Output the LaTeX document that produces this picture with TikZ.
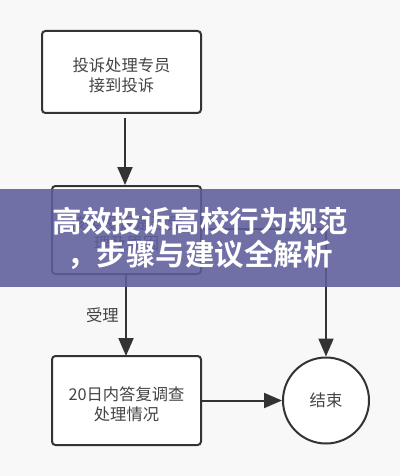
\documentclass[tikz,border=0pt]{standalone}
\usepackage{fontspec}
\setmainfont{Noto Sans CJK SC}
\newfontfamily\cjkbold[BoldFont={Noto Sans CJK SC Bold}]{Noto Sans CJK SC}
\usetikzlibrary{arrows.meta}
\definecolor{bgc}{HTML}{F8F8F8}
\definecolor{ink}{HTML}{333333}
\definecolor{txt}{HTML}{444444}
\definecolor{band}{HTML}{5E5E9C}
\begin{document}
\begin{tikzpicture}[x=1pt,y=-1pt,
  box/.style={draw=ink,line width=2pt,rounded corners=3.5pt,fill=white},
  lbl/.style={text=txt,font=\fontsize{16.3}{20}\selectfont,align=center},
  conn/.style={draw=ink,line width=2pt,-{Triangle[length=18pt,width=15pt]}},
  plain/.style={draw=ink,line width=2pt}]
\fill[bgc] (0,0) rectangle (400,476);
\useasboundingbox (0,0) rectangle (400,476);
% boxes
\path[box] (42,31) rectangle (201,113);
\node[lbl] (b1) at (121.5,75) {投诉处理专员\\接到投诉};
\path[box] (52,186) rectangle (201,274);
\node[lbl] (b2) at (126.5,233) {核实投诉是否受\\理及原因};
\path[box] (52,356) rectangle (201,445);
\node[lbl] (b3) at (126.5,404) {20日内答复调查\\处理情况};
\node[draw=ink,line width=2pt,circle,minimum size=86pt,fill=white,lbl] (end) at (326,400.5) {结束};
% connector end points
\coordinate (a1s) at (125,118);
\coordinate (a1e) at (125,185);
\coordinate (a2s) at (126,275);
\coordinate (a2e) at (126,356);
\coordinate (a3s) at (201,400.5);
\coordinate (r1) at (201,229);
\coordinate (r2) at (326,229);
\draw[conn] (a1s) -- (a1e);
\draw[conn] (a2s) -- node[lbl,left=3pt,pos=0.5] (acc) {受理} (a2e);
\draw[conn] (a3s) -- (end.west);
\draw[conn] (r1) -- (r2) -- (end.north);
% banner
\fill[band,opacity=0.88] (0,189) rectangle (400,287);
\node[text=white,font=\cjkbold\bfseries\fontsize{29.5}{33}\selectfont,align=center] (title) at (200,238) {高效投诉高校行为规范\\，步骤与建议全解析};
\end{tikzpicture}
\end{document}
